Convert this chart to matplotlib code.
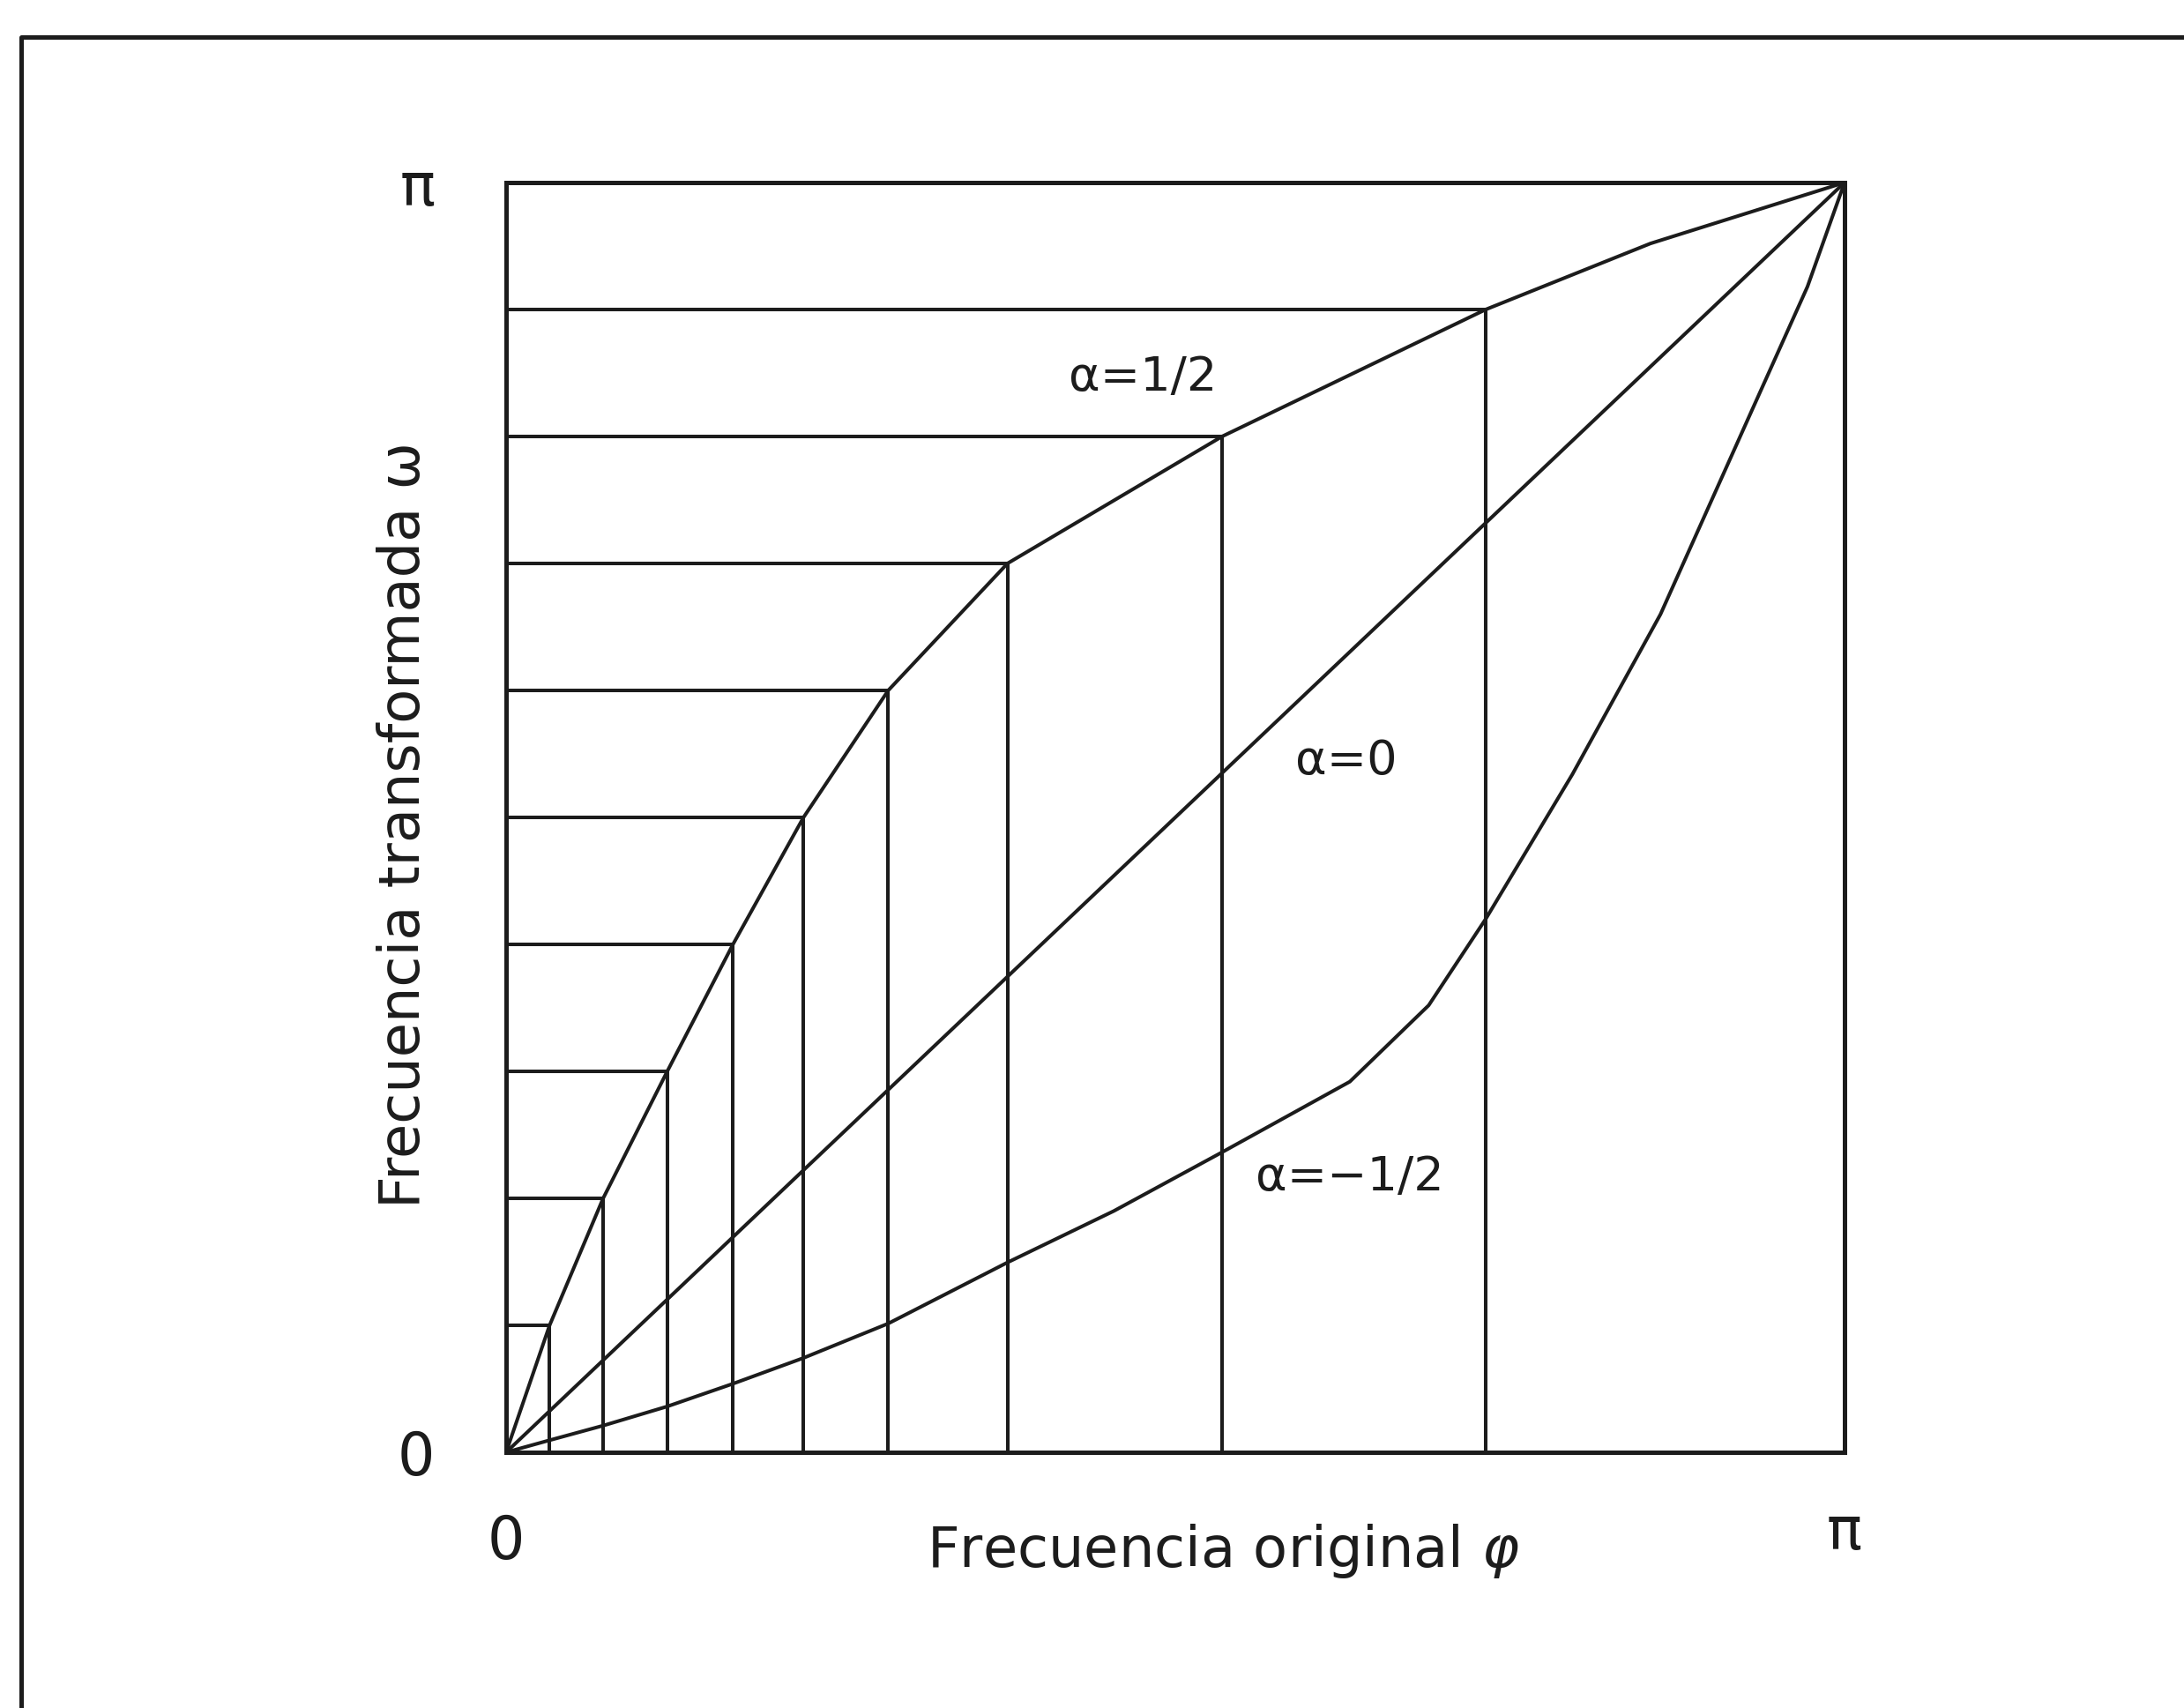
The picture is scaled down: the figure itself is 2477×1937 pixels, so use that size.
import numpy as np
import matplotlib.pyplot as plt
from matplotlib.lines import Line2D

# --- values read in units of pi ---
# transformed frequency levels (horizontal guide lines)
omega_levels = [0.1, 0.2, 0.3, 0.4, 0.5, 0.6, 0.7, 0.8, 0.9]
# original frequency where the alpha=1/2 curve reaches each level
phi_at_levels = [0.0325, 0.0725, 0.1204, 0.1695, 0.2222, 0.2855, 0.3746, 0.5349, 0.7319]

# alpha = 1/2 curve
phi_pos = [0.0] + phi_at_levels + [0.855, 1.0]
omega_pos = [0.0] + omega_levels + [0.952, 1.0]

# alpha = -1/2 curve
phi_neg = [0.0, 0.0325, 0.0725, 0.1204, 0.1695, 0.2222, 0.2855, 0.3746, 0.454,
           0.5349, 0.6304, 0.6893, 0.7319, 0.7967, 0.8625, 0.9284, 0.9723, 1.0]
omega_neg = [0.0, 0.0095, 0.021, 0.0361, 0.054, 0.0743, 0.1014, 0.1495, 0.190,
             0.2363, 0.2919, 0.352, 0.42, 0.534, 0.66, 0.815, 0.918, 1.0]

# alpha = 0 (identity)
phi_zero = [0.0, 1.0]
omega_zero = [0.0, 1.0]

plt.rcParams['font.family'] = ['DejaVu Sans']
plt.rcParams['mathtext.fontset'] = 'dejavusans'

W, H = 2477, 1937
ink = '#1c1c1c'
lw = 2.9

fig = plt.figure(figsize=(W / 100, H / 100), dpi=100)
fig.patch.set_facecolor('white')

# page frame (left and top edges only visible)
fig.add_artist(Line2D([24 / W, 24 / W, 1.02], [-0.02, 1 - 42 / H, 1 - 42 / H],
                      transform=fig.transFigure, color=ink, lw=3.6))

ax = fig.add_axes([574 / W, 1 - 1647 / H, 1518 / W, 1440 / H])
ax.set_xlim(0, 1)
ax.set_ylim(0, 1)

# guide lines: horizontal from the axis to the curve, then down to the axis
for ph, om in zip(phi_at_levels, omega_levels):
    ax.plot([0, ph], [om, om], color=ink, lw=lw, solid_capstyle='butt')
    ax.plot([ph, ph], [0, om], color=ink, lw=lw, solid_capstyle='butt')

ax.plot(phi_pos, omega_pos, color=ink, lw=lw, solid_joinstyle='round')
ax.plot(phi_zero, omega_zero, color=ink, lw=lw)
ax.plot(phi_neg, omega_neg, color=ink, lw=lw, solid_joinstyle='round')

ax.text(0.4756, 0.8465, 'α=1/2', fontsize=39, ha='center', va='center', color=ink)
ax.text(0.6278, 0.5444, 'α=0', fontsize=39, ha='center', va='center', color=ink)
ax.text(0.6304, 0.2167, 'α=−1/2', fontsize=39, ha='center', va='center', color=ink)

for s in ax.spines.values():
    s.set_linewidth(3.6)
    s.set_color(ink)

ax.set_xticks([0, 1], ['0', 'π'])
ax.set_yticks([0, 1], ['0', 'π'])
ax.tick_params(axis='x', length=0, pad=50, labelsize=48, colors=ink)
ax.tick_params(axis='y', length=0, pad=58, labelsize=48, colors=ink)
ax.get_xticklabels()[1].set_y(0.008)

fig.text(1387 / W, 1 - 1777 / H, r'Frecuencia original $\varphi$', fontsize=46,
         ha='center', va='baseline', color=ink)
fig.text(458 / W, 1 - 936 / H, 'Frecuencia transformada ω', fontsize=46,
         rotation=90, ha='center', va='center', color=ink)

fig.savefig('out.png', dpi=100, facecolor='white')
